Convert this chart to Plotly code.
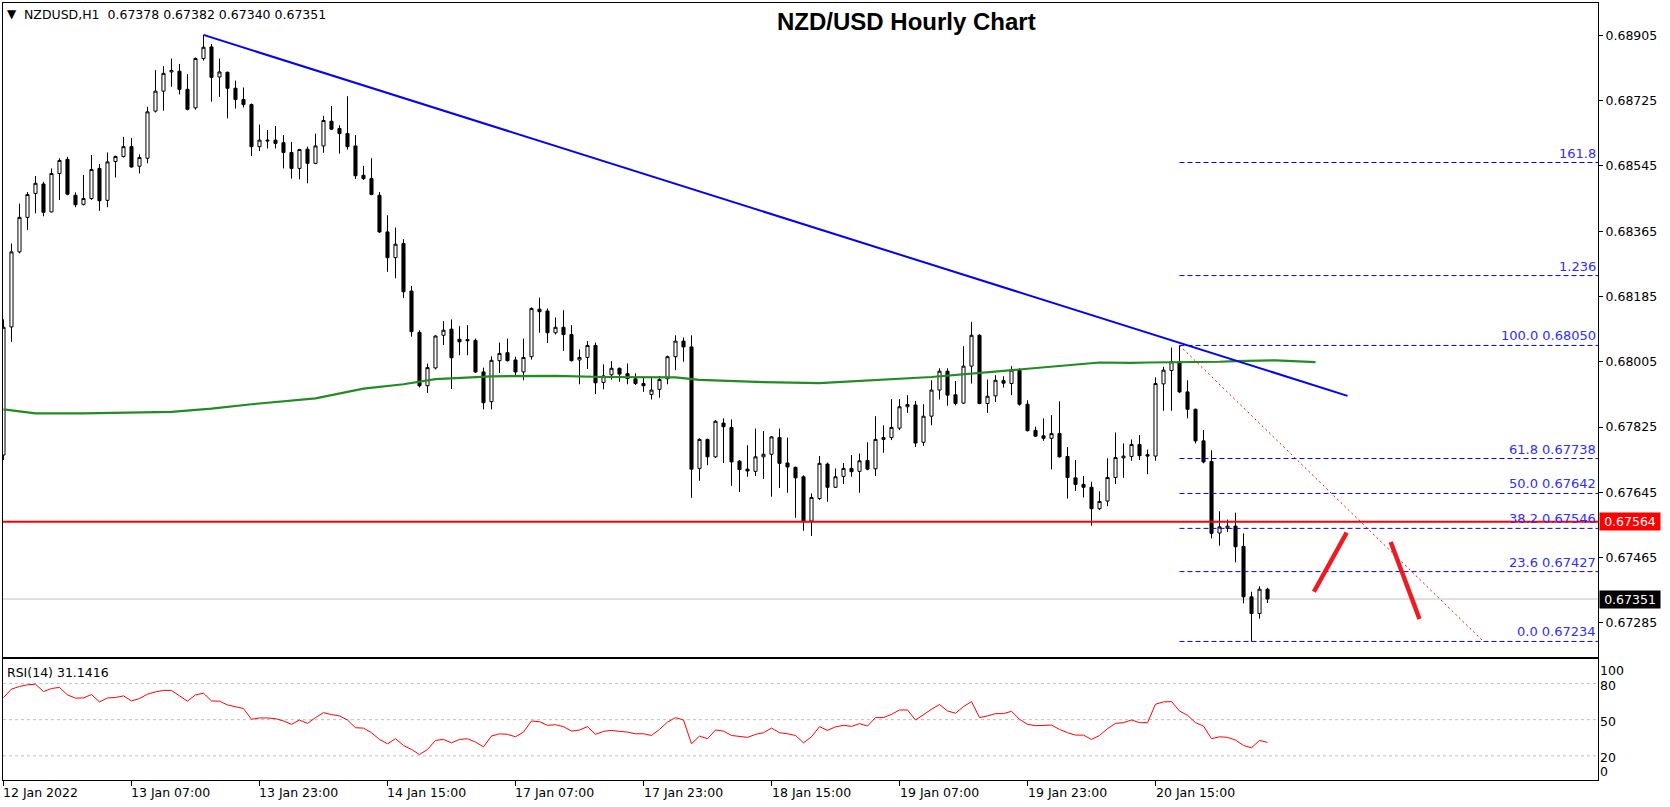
import plotly.graph_objects as go

# ---------------- data (NZDUSD H1) ----------------
open_p = [0.67748,0.68101,0.68308,0.68403,0.68469,0.68495,0.68418,0.68524,0.68563,0.68464,
          0.68439,0.68455,0.68538,0.68450,0.68557,0.68571,0.68598,0.68544,0.68566,0.68696,
          0.68751,0.68804,0.68806,0.68756,0.68705,0.68841,0.68873,0.68790,0.68803,0.68759,
          0.68728,0.68714,0.68598,0.68616,0.68616,0.68609,0.68582,0.68538,0.68591,0.68552,
          0.68600,0.68668,0.68648,0.68634,0.68600,0.68519,0.68510,0.68464,0.68363,0.68292,
          0.68331,0.68200,0.68086,0.67939,0.67988,0.68078,0.68095,0.68067,0.68066,0.68064,
          0.67977,0.67895,0.68008,0.68030,0.68010,0.67977,0.68019,0.68150,0.68145,0.68085,
          0.68100,0.68080,0.68010,0.68017,0.68050,0.67948,0.67969,0.67987,0.67972,0.67958,
          0.67945,0.67915,0.67929,0.67958,0.68019,0.68062,0.68046,0.67711,0.67791,0.67743,
          0.67836,0.67824,0.67731,0.67709,0.67703,0.67743,0.67750,0.67796,0.67726,0.67714,
          0.67688,0.67566,0.67628,0.67723,0.67659,0.67689,0.67711,0.67703,0.67733,0.67710,
          0.67791,0.67796,0.67822,0.67881,0.67886,0.67783,0.67855,0.67927,0.67979,0.67914,
          0.67891,0.67993,0.68078,0.67890,0.67911,0.67953,0.67945,0.67982,0.67888,0.67816,
          0.67801,0.67794,0.67807,0.67744,0.67685,0.67667,0.67659,0.67600,0.67621,0.67686,
          0.67740,0.67744,0.67777,0.67749,0.67745,0.67944,0.67981,0.68005,0.67922,0.67874,
          0.67787,0.67730,0.67533,0.67546,0.67552,0.67496,0.67357,0.67311,0.67378]
high_p = [0.68122,0.68331,0.68441,0.68473,0.68517,0.68501,0.68538,0.68566,0.68570,0.68472,
          0.68520,0.68575,0.68550,0.68582,0.68573,0.68625,0.68622,0.68577,0.68708,0.68809,
          0.68820,0.68841,0.68826,0.68798,0.68844,0.68906,0.68881,0.68841,0.68805,0.68780,
          0.68761,0.68717,0.68659,0.68644,0.68655,0.68630,0.68611,0.68592,0.68598,0.68634,
          0.68683,0.68710,0.68657,0.68737,0.68630,0.68545,0.68566,0.68473,0.68409,0.68375,
          0.68343,0.68214,0.68092,0.68000,0.68078,0.68117,0.68122,0.68103,0.68106,0.68069,
          0.67989,0.68020,0.68058,0.68069,0.68019,0.68069,0.68155,0.68182,0.68152,0.68127,
          0.68147,0.68106,0.68039,0.68062,0.68058,0.67998,0.68007,0.67989,0.68000,0.67973,
          0.67962,0.67961,0.67966,0.68022,0.68078,0.68072,0.68078,0.67794,0.67793,0.67844,
          0.67849,0.67846,0.67734,0.67775,0.67821,0.67814,0.67800,0.67821,0.67796,0.67716,
          0.67692,0.67642,0.67745,0.67727,0.67711,0.67726,0.67748,0.67752,0.67783,0.67855,
          0.67830,0.67902,0.67902,0.67913,0.67897,0.67888,0.67954,0.67987,0.67987,0.67952,
          0.68048,0.68115,0.68081,0.67956,0.67968,0.67965,0.67993,0.67987,0.67899,0.67826,
          0.67849,0.67858,0.67896,0.67770,0.67734,0.67690,0.67674,0.67648,0.67739,0.67810,
          0.67780,0.67791,0.67803,0.67763,0.67962,0.67991,0.68044,0.68050,0.67954,0.67876,
          0.67817,0.67761,0.67593,0.67570,0.67589,0.67532,0.67371,0.67386,0.67382]
low_p = [0.67734,0.68060,0.68304,0.68368,0.68414,0.68406,0.68417,0.68451,0.68464,0.68431,
         0.68436,0.68451,0.68421,0.68431,0.68513,0.68568,0.68540,0.68524,0.68552,0.68692,
         0.68697,0.68763,0.68742,0.68698,0.68700,0.68835,0.68722,0.68735,0.68676,0.68703,
         0.68706,0.68572,0.68586,0.68593,0.68593,0.68538,0.68510,0.68508,0.68497,0.68550,
         0.68581,0.68644,0.68579,0.68590,0.68509,0.68506,0.68464,0.68360,0.68253,0.68235,
         0.68181,0.68074,0.67934,0.67919,0.67984,0.68051,0.67930,0.68023,0.68023,0.67974,
         0.67874,0.67874,0.67974,0.68006,0.67968,0.67954,0.68011,0.68085,0.68057,0.68080,
         0.68035,0.68006,0.67943,0.67985,0.67916,0.67929,0.67956,0.67950,0.67943,0.67941,
         0.67922,0.67901,0.67906,0.67943,0.67982,0.68005,0.67630,0.67677,0.67720,0.67740,
         0.67726,0.67663,0.67646,0.67688,0.67690,0.67682,0.67633,0.67657,0.67644,0.67575,
         0.67539,0.67525,0.67624,0.67619,0.67657,0.67668,0.67688,0.67644,0.67706,0.67690,
         0.67754,0.67789,0.67817,0.67864,0.67770,0.67773,0.67830,0.67901,0.67884,0.67885,
         0.67889,0.67945,0.67888,0.67864,0.67894,0.67934,0.67913,0.67884,0.67813,0.67798,
         0.67787,0.67708,0.67741,0.67628,0.67649,0.67631,0.67553,0.67596,0.67607,0.67668,
         0.67685,0.67732,0.67734,0.67695,0.67732,0.67870,0.67870,0.67919,0.67849,0.67780,
         0.67725,0.67518,0.67498,0.67536,0.67452,0.67339,0.67234,0.67297,0.67340]
close_p = [0.68100,0.68308,0.68403,0.68466,0.68497,0.68417,0.68524,0.68560,0.68467,0.68438,
           0.68455,0.68535,0.68449,0.68556,0.68571,0.68598,0.68542,0.68568,0.68694,0.68751,
           0.68800,0.68808,0.68756,0.68701,0.68841,0.68872,0.68789,0.68804,0.68759,0.68728,
           0.68714,0.68598,0.68616,0.68614,0.68607,0.68582,0.68538,0.68590,0.68552,0.68600,
           0.68670,0.68646,0.68634,0.68598,0.68518,0.68510,0.68466,0.68363,0.68292,0.68329,
           0.68198,0.68088,0.67939,0.67989,0.68076,0.68092,0.68016,0.68060,0.68063,0.67977,
           0.67892,0.68009,0.68028,0.68008,0.67977,0.68017,0.68152,0.68143,0.68085,0.68100,
           0.68080,0.68008,0.68017,0.68050,0.67947,0.67966,0.67987,0.67971,0.67959,0.67945,
           0.67939,0.67927,0.67956,0.68019,0.68062,0.68046,0.67709,0.67791,0.67743,0.67841,
           0.67826,0.67729,0.67708,0.67704,0.67743,0.67750,0.67798,0.67725,0.67715,0.67685,
           0.67566,0.67631,0.67725,0.67659,0.67688,0.67711,0.67702,0.67732,0.67709,0.67791,
           0.67796,0.67824,0.67881,0.67887,0.67781,0.67855,0.67927,0.67979,0.67913,0.67890,
           0.67993,0.68078,0.67890,0.67910,0.67954,0.67946,0.67982,0.67888,0.67815,0.67800,
           0.67794,0.67807,0.67743,0.67686,0.67667,0.67659,0.67600,0.67620,0.67686,0.67741,
           0.67745,0.67777,0.67746,0.67745,0.67945,0.67982,0.68005,0.67922,0.67874,0.67787,
           0.67729,0.67532,0.67550,0.67552,0.67495,0.67357,0.67311,0.67378,0.67351]
rsi = [68.3,75.3,77.5,78.9,79.4,73.3,75.8,76.7,70.5,67.8,
       68.0,70.8,64.7,68.0,68.3,69.7,65.5,67.5,71.1,73.0,
       74.2,74.2,69.7,65.3,70.5,71.9,65.5,65.3,62.2,60.8,
       59.2,50.3,51.4,51.4,50.8,48.9,46.1,49.7,46.9,51.7,
       55.8,54.2,53.1,49.7,43.3,43.0,39.2,33.6,30.0,34.2,
       28.6,25.3,21.1,25.3,32.8,33.6,30.8,33.6,34.2,31.4,
       27.5,36.4,38.3,37.8,35.8,39.7,48.9,48.3,45.3,45.8,
       44.2,40.5,41.4,44.2,37.8,40.3,41.1,40.3,39.7,38.3,
       38.3,36.9,41.9,48.0,51.7,49.7,30.0,36.4,34.2,41.4,
       40.5,36.9,35.8,35.3,37.8,39.2,43.0,39.2,38.3,36.9,
       30.8,35.8,44.2,41.1,44.0,45.3,44.4,46.7,44.7,51.7,
       51.7,54.4,58.0,58.0,49.7,54.4,58.6,62.5,57.2,55.3,
       60.8,65.0,51.7,53.1,55.0,55.0,56.9,50.3,46.1,45.0,
       45.3,45.5,41.9,39.2,37.2,37.2,33.6,36.9,42.5,46.9,
       47.5,49.7,47.5,47.5,62.8,64.7,65.0,57.2,53.6,47.5,
       44.7,34.2,35.8,35.3,33.1,28.6,26.7,32.8,31.1416]
bar = list(range(len(close_p)))

ma_index = [0, 4, 10, 21, 26, 31, 39, 45, 50, 54, 61, 69, 75, 84, 87, 91, 95, 102,
            108, 116, 125, 133, 137, 141, 143, 152, 154, 159, 164]
ma_value = [0.67874, 0.67863, 0.67863, 0.67867, 0.67876, 0.67888, 0.67904, 0.67931,
            0.67943, 0.67957, 0.67965, 0.67966, 0.67963, 0.67962, 0.67955, 0.67952,
            0.67949, 0.67946, 0.67954, 0.67963, 0.67980, 0.67996, 0.68003, 0.68002,
            0.68003, 0.68005, 0.68007, 0.68009, 0.68004]

tick_index = [0, 16, 32, 48, 64, 80, 96, 112, 128, 144]
tick_text = ["12 Jan 2022", "13 Jan 07:00", "13 Jan 23:00", "14 Jan 15:00", "17 Jan 07:00",
             "17 Jan 23:00", "18 Jan 15:00", "19 Jan 07:00", "19 Jan 23:00", "20 Jan 15:00"]
price_ticks = [0.68905, 0.68725, 0.68545, 0.68365, 0.68185, 0.68005, 0.67825, 0.67645,
               0.67465, 0.67285]
rsi_levels = [20, 50, 80]
rsi_labels = ["100", "80", "50", "20", "0"]

trend_x = [25, 168]
trend_y = [0.68906, 0.67911]
fib_x = [147, 185]
fib_y = [0.68050, 0.67234]
fib_levels = [1.618, 1.236, 1.0, 0.618, 0.5, 0.382, 0.236, 0.0]
fib_text = ["161.8", "1.236", "100.0 0.68050", "61.8 0.67738", "50.0 0.67642",
            "38.2 0.67546", "23.6 0.67427", "0.0 0.67234"]
support = 0.67564
arrow_up = ([163.8, 167.9], [0.67371, 0.67534])
arrow_down = ([173.4, 177.0], [0.67508, 0.67296])

# ---------------- figure ----------------
W, H = 1670, 807
ML, MR, MT, MB = 3, 72, 3, 27
X_RANGE = [-0.06, 199.31]
FONT = "DejaVu Sans"

fig = go.Figure()
fig.add_trace(go.Candlestick(
    x=bar, open=open_p, high=high_p, low=low_p, close=close_p,
    increasing=dict(line=dict(color="black", width=1), fillcolor="white"),
    decreasing=dict(line=dict(color="black", width=1), fillcolor="black"),
    whiskerwidth=0, hoverinfo="skip", xaxis="x", yaxis="y"))
fig.add_trace(go.Scatter(x=ma_index, y=ma_value, mode="lines",
                         line=dict(color="#228B22", width=2.2), hoverinfo="skip",
                         xaxis="x", yaxis="y"))
fig.add_trace(go.Scatter(x=bar, y=rsi, mode="lines", line=dict(color="#FF0000", width=1),
                         hoverinfo="skip", xaxis="x2", yaxis="y2"))

shapes = []
# current price line
shapes.append(dict(type="line", xref="paper", x0=0, x1=1, yref="y", y0=close_p[-1],
                   y1=close_p[-1], line=dict(color="#C0C0C0", width=1), layer="below"))
# support line
shapes.append(dict(type="line", xref="paper", x0=0, x1=1, yref="y", y0=support, y1=support,
                   line=dict(color="#FF0000", width=2)))
# trend line
shapes.append(dict(type="line", xref="x", yref="y", x0=trend_x[0], y0=trend_y[0],
                   x1=trend_x[1], y1=trend_y[1], line=dict(color="#0000FF", width=2)))
# fib levels
fib_lo, fib_hi = fib_y[1], fib_y[0]
annotations = []
for lvl, txt in zip(fib_levels, fib_text):
    p = fib_lo + lvl * (fib_hi - fib_lo)
    shapes.append(dict(type="line", xref="x", yref="y", x0=fib_x[0], x1=X_RANGE[1], y0=p, y1=p,
                       line=dict(color="#0000FF", width=1, dash="5px,3px")))
    annotations.append(dict(xref="paper", yref="y", x=1, y=p, text=txt, showarrow=False,
                            xanchor="right", yanchor="bottom",
                            font=dict(family=FONT, size=13, color="#2E2EFF")))
# fib trend (dotted)
shapes.append(dict(type="line", xref="x", yref="y", x0=fib_x[0], y0=fib_y[0], x1=fib_x[1],
                   y1=fib_y[1], line=dict(color="#FF0000", width=1, dash="2px,3px")))
# RSI levels
for lv in rsi_levels:
    shapes.append(dict(type="line", xref="x2 domain", yref="y2", x0=0, x1=1, y0=lv, y1=lv,
                       line=dict(color="#C0C0C0", width=1, dash="3px,3px"), layer="below"))
# hand-drawn arrows
for ax, ay in (arrow_up, arrow_down):
    shapes.append(dict(type="line", xref="x", yref="y", x0=ax[0], y0=ay[0], x1=ax[1], y1=ay[1],
                       line=dict(color="#ED1C24", width=4.5)))

# title & header
annotations.append(dict(xref="paper", yref="paper", x=(906 - ML) / (W - ML - MR),
                        y=(H - MB - 21.5) / (H - MT - MB), text="<b>NZD/USD Hourly Chart</b>",
                        showarrow=False, xanchor="center", yanchor="middle",
                        font=dict(family="Liberation Sans", size=24, color="black")))
annotations.append(dict(xref="paper", yref="paper", x=(5 - ML) / (W - ML - MR),
                        y=(H - MB - 14) / (H - MT - MB), text="▼", showarrow=False,
                        xanchor="left", yanchor="middle",
                        font=dict(family=FONT, size=12, color="black")))
annotations.append(dict(xref="paper", yref="paper", x=(22 - ML) / (W - ML - MR),
                        y=(H - MB - 14) / (H - MT - MB),
                        text="NZDUSD,H1  %.5f %.5f %.5f %.5f" % (open_p[-1], high_p[-1], low_p[-1], close_p[-1]),
                        showarrow=False, xanchor="left", yanchor="middle",
                        font=dict(family=FONT, size=12.5, color="black")))
# price boxes
for val, col in ((support, "#FF0000"), (close_p[-1], "#000000")):
    annotations.append(dict(xref="paper", yref="y", x=1, xshift=1, y=val, text="%.5f" % val,
                            showarrow=False, xanchor="left", yanchor="middle", bgcolor=col,
                            width=58, height=15, borderpad=1, align="center",
                            font=dict(family=FONT, size=12.5, color="white")))
# RSI caption and labels
annotations.append(dict(xref="paper", yref="paper", x=(5 - ML) / (W - ML - MR),
                        y=(H - MB - 672.7) / (H - MT - MB), text="RSI(14) 31.1416",
                        showarrow=False, xanchor="left", yanchor="middle",
                        font=dict(family=FONT, size=12.5, color="black")))
for txt, yv in zip(rsi_labels, [91.1, 78.2, 48.4, 18.5, 7.0]):
    annotations.append(dict(xref="paper", yref="y2", x=1, y=yv, text=txt, showarrow=False,
                            xanchor="left", yanchor="middle",
                            font=dict(family=FONT, size=12.5, color="black")))
# time labels
for xi, txt in zip(tick_index, tick_text):
    annotations.append(dict(xref="x2", yref="paper", x=xi, xshift=-2,
                            y=(H - MB - 793) / (H - MT - MB), text=txt, showarrow=False,
                            xanchor="left", yanchor="middle",
                            font=dict(family=FONT, size=12.5, color="black")))

main_bottom = (H - MB - 656.7) / (H - MT - MB)
rsi_top = (H - MB - 659.3) / (H - MT - MB)

axis_common = dict(showgrid=False, zeroline=False, showline=True, mirror=True,
                   linecolor="black", linewidth=1)
fig.update_layout(
    width=W, height=H, margin=dict(l=ML, r=MR, t=MT, b=MB, autoexpand=False),
    paper_bgcolor="white", plot_bgcolor="white", showlegend=False,
    font=dict(family=FONT, size=12.5, color="black"),
    boxgap=0.45,
    xaxis=dict(domain=[0, 1], anchor="y", range=X_RANGE, showticklabels=False, ticks="",
               rangeslider=dict(visible=False), automargin=False, **axis_common),
    yaxis=dict(domain=[main_bottom, 1], anchor="x", side="right", range=[0.67192, 0.68994],
               tickvals=price_ticks, ticktext=["%.5f" % v for v in price_ticks],
               ticks="outside", ticklen=4, tickcolor="black", automargin=False,
               tickfont=dict(family=FONT, size=12.5, color="black"), **axis_common),
    xaxis2=dict(domain=[0, 1], anchor="y2", matches="x", tickvals=tick_index,
                showticklabels=False, ticks="outside", ticklen=5, tickcolor="black",
                automargin=False, **axis_common),
    yaxis2=dict(domain=[0, rsi_top], anchor="x2", side="right", range=[0, 100],
                showticklabels=False, ticks="", automargin=False, **axis_common),
    shapes=shapes, annotations=annotations,
)

fig.write_html("out.html", config={"displayModeBar": False},
               post_script="document.body.style.margin='0';document.body.style.padding='0';")
